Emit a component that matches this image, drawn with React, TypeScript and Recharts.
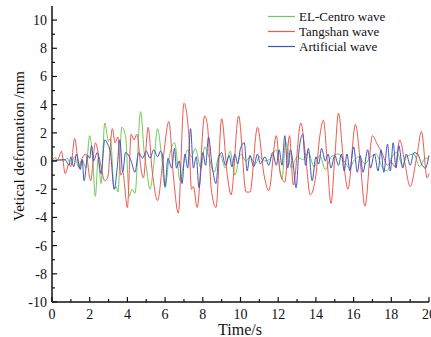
import React from "react";
import { LineChart, Line, XAxis, YAxis, Legend } from "recharts";

type Pt = [number, number];

const xTicks = [0, 1, 2, 3, 4, 5, 6, 7, 8, 9, 10, 11, 12, 13, 14, 15, 16, 17, 18, 19, 20];
const yTicks = [-10, -9, -8, -7, -6, -5, -4, -3, -2, -1, 0, 1, 2, 3, 4, 5, 6, 7, 8, 9, 10];
const seriesNames = ["EL-Centro wave", "Tangshan wave", "Artificial wave"];

const elCentro: Pt[] = [
  [0, 0], [0.3, 0.1], [0.6, 0], [0.8, 0.2], [1.0, -0.2], [1.2, 0.3], [1.4, -0.4], [1.6, 0.1], [1.8, -0.5],
  [2.0, 1.8], [2.15, 0.3], [2.3, -2.5], [2.45, 0.2], [2.6, -1.6], [2.8, 2.7], [3.0, 1.4], [3.1, 1.6],
  [3.3, -2.0], [3.4, -1.8], [3.5, -2.2], [3.7, 2.4], [3.9, 1.8], [4.1, -2.5], [4.25, -2.0], [4.4, -2.3],
  [4.7, 3.5], [4.9, 0.5], [5.0, -0.4], [5.2, -2.0], [5.4, -0.2], [5.6, 2.3], [5.8, 0.5], [6.0, -1.9],
  [6.2, 0.1], [6.5, 1.3], [6.8, -1.4], [7.0, -0.1], [7.2, 0.8], [7.4, 0.3], [7.6, 0.9], [7.9, -0.5],
  [8.1, 1.0], [8.3, 0.4], [8.6, -0.8], [8.9, 0.5], [9.2, -0.5], [9.45, 0.7], [9.7, -1.0], [10.0, 0.5],
  [10.3, 0], [10.5, 0.3], [10.8, -0.2], [11.0, 0.3], [11.3, 0], [11.6, 0.2], [11.9, 0.8], [12.2, -1.3],
  [12.4, 1.4], [12.7, -0.5], [13.0, 0.3], [13.3, 0.1], [13.6, 0.6], [13.9, -0.4], [14.2, 0.4], [14.5, -0.6],
  [14.8, 0.3], [15.2, 0.5], [15.5, 0], [15.8, -0.5], [16.0, 0], [16.3, 0.3], [16.6, -0.2], [16.9, 0.3],
  [17.2, 0.5], [17.5, -0.4], [17.8, -0.7], [18.0, 0.2], [18.3, 0.6], [18.6, -0.3], [18.8, 0.3], [19.2, 0.5],
  [19.5, -0.4], [19.8, 0.2], [20, 0.2],
];

const tangshan: Pt[] = [
  [0, 0], [0.15, 0.25], [0.3, 0.1], [0.5, 0.7], [0.7, -0.9], [0.9, -0.2], [1.0, -0.4], [1.2, 1.6],
  [1.45, -0.5], [1.6, 0.2], [1.8, 0.5], [2.05, -1.4], [2.3, 1.3], [2.5, 0.3], [2.8, -1.4], [2.95, -1.2],
  [3.2, 2.3], [3.35, 1.3], [3.5, 1.7], [3.65, -1.0], [3.75, -0.8], [4.0, -3.3], [4.2, 1.9], [4.35, 1.5],
  [4.5, 1.9], [4.75, -0.8], [4.85, -1.2], [5.1, 2.4], [5.3, -0.5], [5.6, -2.8], [5.9, 0.2], [6.2, 2.8],
  [6.45, -1.2], [6.7, -3.7], [7.0, 4.1], [7.25, 2.0], [7.4, -2.0], [7.5, -1.8], [7.7, -3.3], [8.1, 3.2],
  [8.25, 2.5], [8.45, -2.0], [8.7, -3.3], [9.0, 3.0], [9.3, -1.0], [9.5, -2.4], [9.9, 3.2], [10.3, -2.2],
  [10.5, -2.2], [10.9, 2.4], [11.25, -1.0], [11.5, -2.1], [11.9, 1.8], [12.1, -0.8], [12.35, -1.5],
  [12.6, 1.8], [12.8, -1.7], [13.2, 2.7], [13.45, 0.4], [13.7, -2.4], [14.0, -1.0], [14.2, 1.7],
  [14.4, 2.9], [14.6, 0], [14.8, -3.0], [15.0, 0.2], [15.2, 3.4], [15.45, 0.2], [15.7, -2.0], [16.1, 2.6],
  [16.35, 0], [16.6, -3.2], [17.0, 1.8], [17.25, 1.2], [17.5, 0.6], [17.8, -0.3], [18.0, -0.1], [18.2, -0.4],
  [18.45, 1.5], [18.7, 0], [19.0, -1.8], [19.35, 0.3], [19.6, 2.1], [19.9, -1.2], [20, -0.9],
];

const artificial: Pt[] = [
  [0, 0], [0.3, 0.05], [0.5, 0.1], [0.7, 0.1], [0.9, -0.3], [1.0, 0.3], [1.15, -0.4], [1.3, 0.5],
  [1.5, -0.6], [1.6, 0.1], [1.7, -1.4], [1.9, 0.4], [2.0, 0.2], [2.1, 1.1], [2.2, 0], [2.4, 0.6],
  [2.6, -0.9], [2.8, 1.5], [2.95, 1.2], [3.1, 0.6], [3.3, -2.0], [3.45, -0.6], [3.6, 1.5], [3.75, -0.8],
  [3.9, 0.6], [4.2, 0], [4.4, -0.8], [4.6, 0.6], [4.8, 0.2], [5.0, 0.7], [5.2, 0.2], [5.4, 0.8],
  [5.6, 0.3], [5.75, 0.7], [5.85, 0.5], [6.0, -1.8], [6.15, 0.2], [6.35, -0.5], [6.5, 0.9], [6.6, -0.5],
  [6.75, 0], [6.9, -1.6], [7.05, 0.5], [7.2, -0.5], [7.35, 2.3], [7.5, -0.5], [7.65, 0.3], [7.8, -1.9],
  [8.0, 0.6], [8.15, -0.3], [8.3, 1.7], [8.5, -0.4], [8.7, -1.6], [8.85, 0.3], [9.0, 0.6], [9.2, -0.3],
  [9.4, 0.4], [9.55, -0.4], [9.7, 0.5], [9.85, -0.2], [10.0, 0.9], [10.2, 1.3], [10.35, -0.7], [10.5, 0.4],
  [10.7, -0.4], [10.9, 0.5], [11.05, -0.2], [11.3, 0.3], [11.5, -0.3], [11.7, 0.6], [11.9, -0.3],
  [12.05, 0.8], [12.2, -0.3], [12.35, 1.8], [12.5, -0.5], [12.65, 0.8], [12.8, -0.3], [12.95, -1.9],
  [13.1, 0.7], [13.3, 1.9], [13.45, -0.3], [13.6, 0.9], [13.8, -1.4], [14.0, 0.3], [14.15, -0.2],
  [14.3, 0.9], [14.5, 0], [14.65, 0.5], [14.8, -0.5], [15.0, 0.4], [15.2, -0.3], [15.35, 0.5], [15.5, -0.7],
  [15.65, 0.5], [15.8, -0.7], [16.0, 1.0], [16.2, -0.8], [16.35, 0.4], [16.5, -0.8], [16.75, 0.8],
  [16.9, -0.5], [17.1, 0.5], [17.3, -0.7], [17.45, 0.8], [17.6, -0.8], [17.8, 1.2], [17.95, -0.7],
  [18.1, 1.3], [18.25, -0.5], [18.4, 1.1], [18.6, -0.5], [18.8, 0.5], [19.0, -0.3], [19.2, 0.6],
  [19.4, 0.5], [19.6, -0.2], [19.8, -0.5], [20, 0.4],
];

const toRows = (pts: Pt[]) => pts.map(([t, v]) => ({ t, v }));

const serif = "'Liberation Serif', 'Times New Roman', serif";

const XTick = (props: any) => {
  const { x, y, payload } = props;
  const v = payload.value;
  const major = v % 2 === 0;
  return (
    <g>
      <line x1={x} x2={x} y1={y} y2={y - (major ? 5 : 3)} stroke="#111" strokeWidth={1.2} />
      {major && (
        <text x={x} y={y + 17} textAnchor="middle" fontSize={14} fontFamily={serif} fill="#111">
          {v}
        </text>
      )}
    </g>
  );
};

const YTick = (props: any) => {
  const { x, y, payload } = props;
  const v = payload.value;
  const major = v % 2 === 0;
  return (
    <g>
      <line x1={x} x2={x + (major ? 5 : 3)} y1={y} y2={y} stroke="#111" strokeWidth={1.2} />
      {major && (
        <text x={x - 5} y={y + 5} textAnchor="end" fontSize={14} fontFamily={serif} fill="#111">
          {v}
        </text>
      )}
    </g>
  );
};

const LegendBox = (props: any) => {
  const items = [...(props.payload || [])].sort(
    (a: any, b: any) => seriesNames.indexOf(a.value) - seriesNames.indexOf(b.value)
  );
  return (
    <div style={{ fontFamily: serif, fontSize: 13, color: "#111" }}>
      {items.map((it: any) => (
        <div key={it.value} style={{ display: "flex", alignItems: "center", height: 15 }}>
          <svg width={31} height={15}>
            <line x1={0} x2={27} y1={7.5} y2={7.5} stroke={it.color} strokeWidth={1.2} />
          </svg>
          <span>{it.value}</span>
        </div>
      ))}
    </div>
  );
};

export default function App() {
  return (
    <div style={{ position: "absolute", left: 0, top: 0, width: 431, height: 337, background: "#fff" }}>
      <LineChart width={431} height={337} margin={{ top: 6, right: 2, left: 0, bottom: 0 }}>
        <XAxis
          dataKey="t"
          type="number"
          domain={[0, 20]}
          ticks={xTicks}
          interval={0}
          height={35}
          tickSize={0}
          tickMargin={0}
          tickLine={false}
          tick={<XTick />}
          axisLine={{ stroke: "#111", strokeWidth: 1.5 }}
          allowDuplicatedCategory={false}
          label={{
            content: () => (
              <text x={240} y={335} textAnchor="middle" fontSize={16} fontFamily={serif} fill="#111">
                Time/s
              </text>
            ),
          }}
        />
        <XAxis
          xAxisId="top"
          orientation="top"
          type="number"
          domain={[0, 20]}
          height={0}
          tick={false}
          tickLine={false}
          axisLine={{ stroke: "#333", strokeWidth: 1.2 }}
        />
        <YAxis
          type="number"
          domain={[-10, 11]}
          ticks={yTicks}
          interval={0}
          width={52}
          tickSize={0}
          tickMargin={0}
          tickLine={false}
          tick={<YTick />}
          axisLine={{ stroke: "#111", strokeWidth: 1.5 }}
          label={{
            content: () => (
              <text
                transform="translate(24,146) rotate(-90)"
                textAnchor="middle"
                fontSize={15}
                fontFamily={serif}
                fill="#111"
              >
                Vetical deformation /mm
              </text>
            ),
          }}
        />
        <YAxis
          yAxisId="right"
          orientation="right"
          domain={[0, 1]}
          width={0}
          tick={false}
          tickLine={false}
          axisLine={{ stroke: "#333", strokeWidth: 1.2 }}
        />
        <Legend
          layout="vertical"
          align="center"
          verticalAlign="middle"
          content={<LegendBox />}
          wrapperStyle={{ position: "absolute", top: 9, left: 268, width: 140 }}
        />
        <Line
          name="EL-Centro wave"
          data={toRows(elCentro)}
          dataKey="v"
          type="monotone"
          stroke="#72c95a"
          strokeWidth={1}
          dot={false}
          isAnimationActive={false}
        />
        <Line
          name="Tangshan wave"
          data={toRows(tangshan)}
          dataKey="v"
          type="monotone"
          stroke="#f0584e"
          strokeWidth={1}
          dot={false}
          isAnimationActive={false}
        />
        <Line
          name="Artificial wave"
          data={toRows(artificial)}
          dataKey="v"
          type="monotone"
          stroke="#4255bd"
          strokeWidth={1}
          dot={false}
          isAnimationActive={false}
        />
      </LineChart>
    </div>
  );
}
